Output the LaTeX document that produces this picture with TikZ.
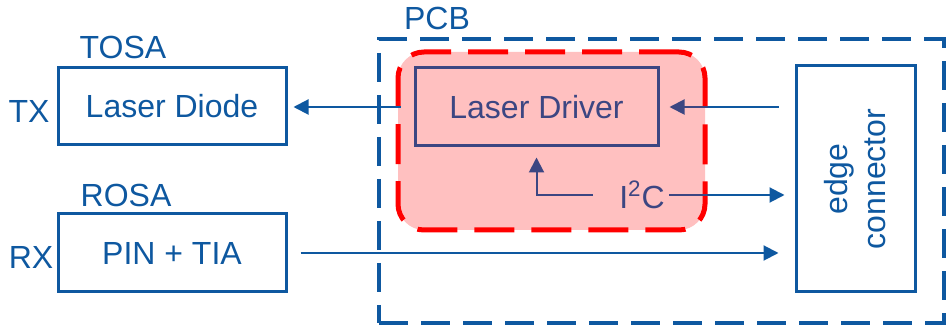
\documentclass[tikz,border=0pt]{standalone}
\usepackage{fontspec}
\setmainfont{Liberation Sans}
\usetikzlibrary{arrows.meta}
\definecolor{pcbblue}{RGB}{14,88,160}
\definecolor{drvslate}{RGB}{60,70,130}
\definecolor{zonepink}{RGB}{255,192,192}
\begin{document}
\begin{tikzpicture}[x=.5pt,y=-.5pt,>={Triangle[length=7.5pt,width=7.5pt]},
  txt/.style={font=\fontsize{16}{19}\selectfont,text=pcbblue},
  blk/.style={txt,draw=pcbblue,line width=1.5pt,minimum width=114pt,minimum height=38.5pt},
  bline/.style={draw=pcbblue,line width=1pt},
  dline/.style={draw=drvslate,line width=1pt}]
\useasboundingbox (0,0) rectangle (951,330);
\node[draw=pcbblue,line width=1.6pt,dash pattern=on 14.5pt off 6.5pt,minimum width=282.5pt,minimum height=142pt] (pcb) at (661.5,181){};
\node[txt] (pcbl) at (437,18){PCB};
\node[draw=red,fill=zonepink,line width=2.5pt,dash pattern=on 20pt off 8.5pt,rounded corners=13pt,minimum width=153.5pt,minimum height=89pt] (zone) at (551.5,141){};
\node[blk] (ld) at (172,106.5){Laser Diode};\node[blk,minimum height=39pt] (pt) at (172,253){PIN + TIA};
\node[txt] (tosa) at (123,47){TOSA};\node[txt] (rosa) at (126,195){ROSA};
\node[txt] (tx) at (29,111){TX};\node[txt] (rx) at (31,257){RX};
\node[txt,text=drvslate,draw=drvslate,line width=1.5pt,minimum width=121.5pt,minimum height=39pt] (drv) at (536.5,107){Laser Driver};
\node[blk,minimum width=113pt,minimum height=59.5pt,align=center,rotate=90] (ec) at (855.5,179){edge\\connector};
\node[txt,text=drvslate,inner sep=2pt] (i2c) at (642,195){I\textsuperscript{2}C};
\draw[bline,->,shorten <=6.5pt,shorten >=3pt] (drv.west) -- (drv.west -| ld.east);
\draw[bline,shorten <=8pt] (ec.north |- drv.east) -- (zone.east |- drv.east);\draw[dline,->,shorten >=5pt] (zone.east |- drv.east) -- (drv.east);
\draw[dline] (i2c.east) -- (zone.east |- i2c.east);\draw[bline,->,shorten >=5pt] (zone.east |- i2c.east) -- (ec.north |- i2c.east);
\draw[dline,->,shorten <=11pt,shorten >=5pt] (i2c.west) -| (drv.south);
\draw[bline,->,shorten <=6.5pt,shorten >=8pt] (pt.east) -- (pt.east -| ec.north);
\end{tikzpicture}
\end{document}
